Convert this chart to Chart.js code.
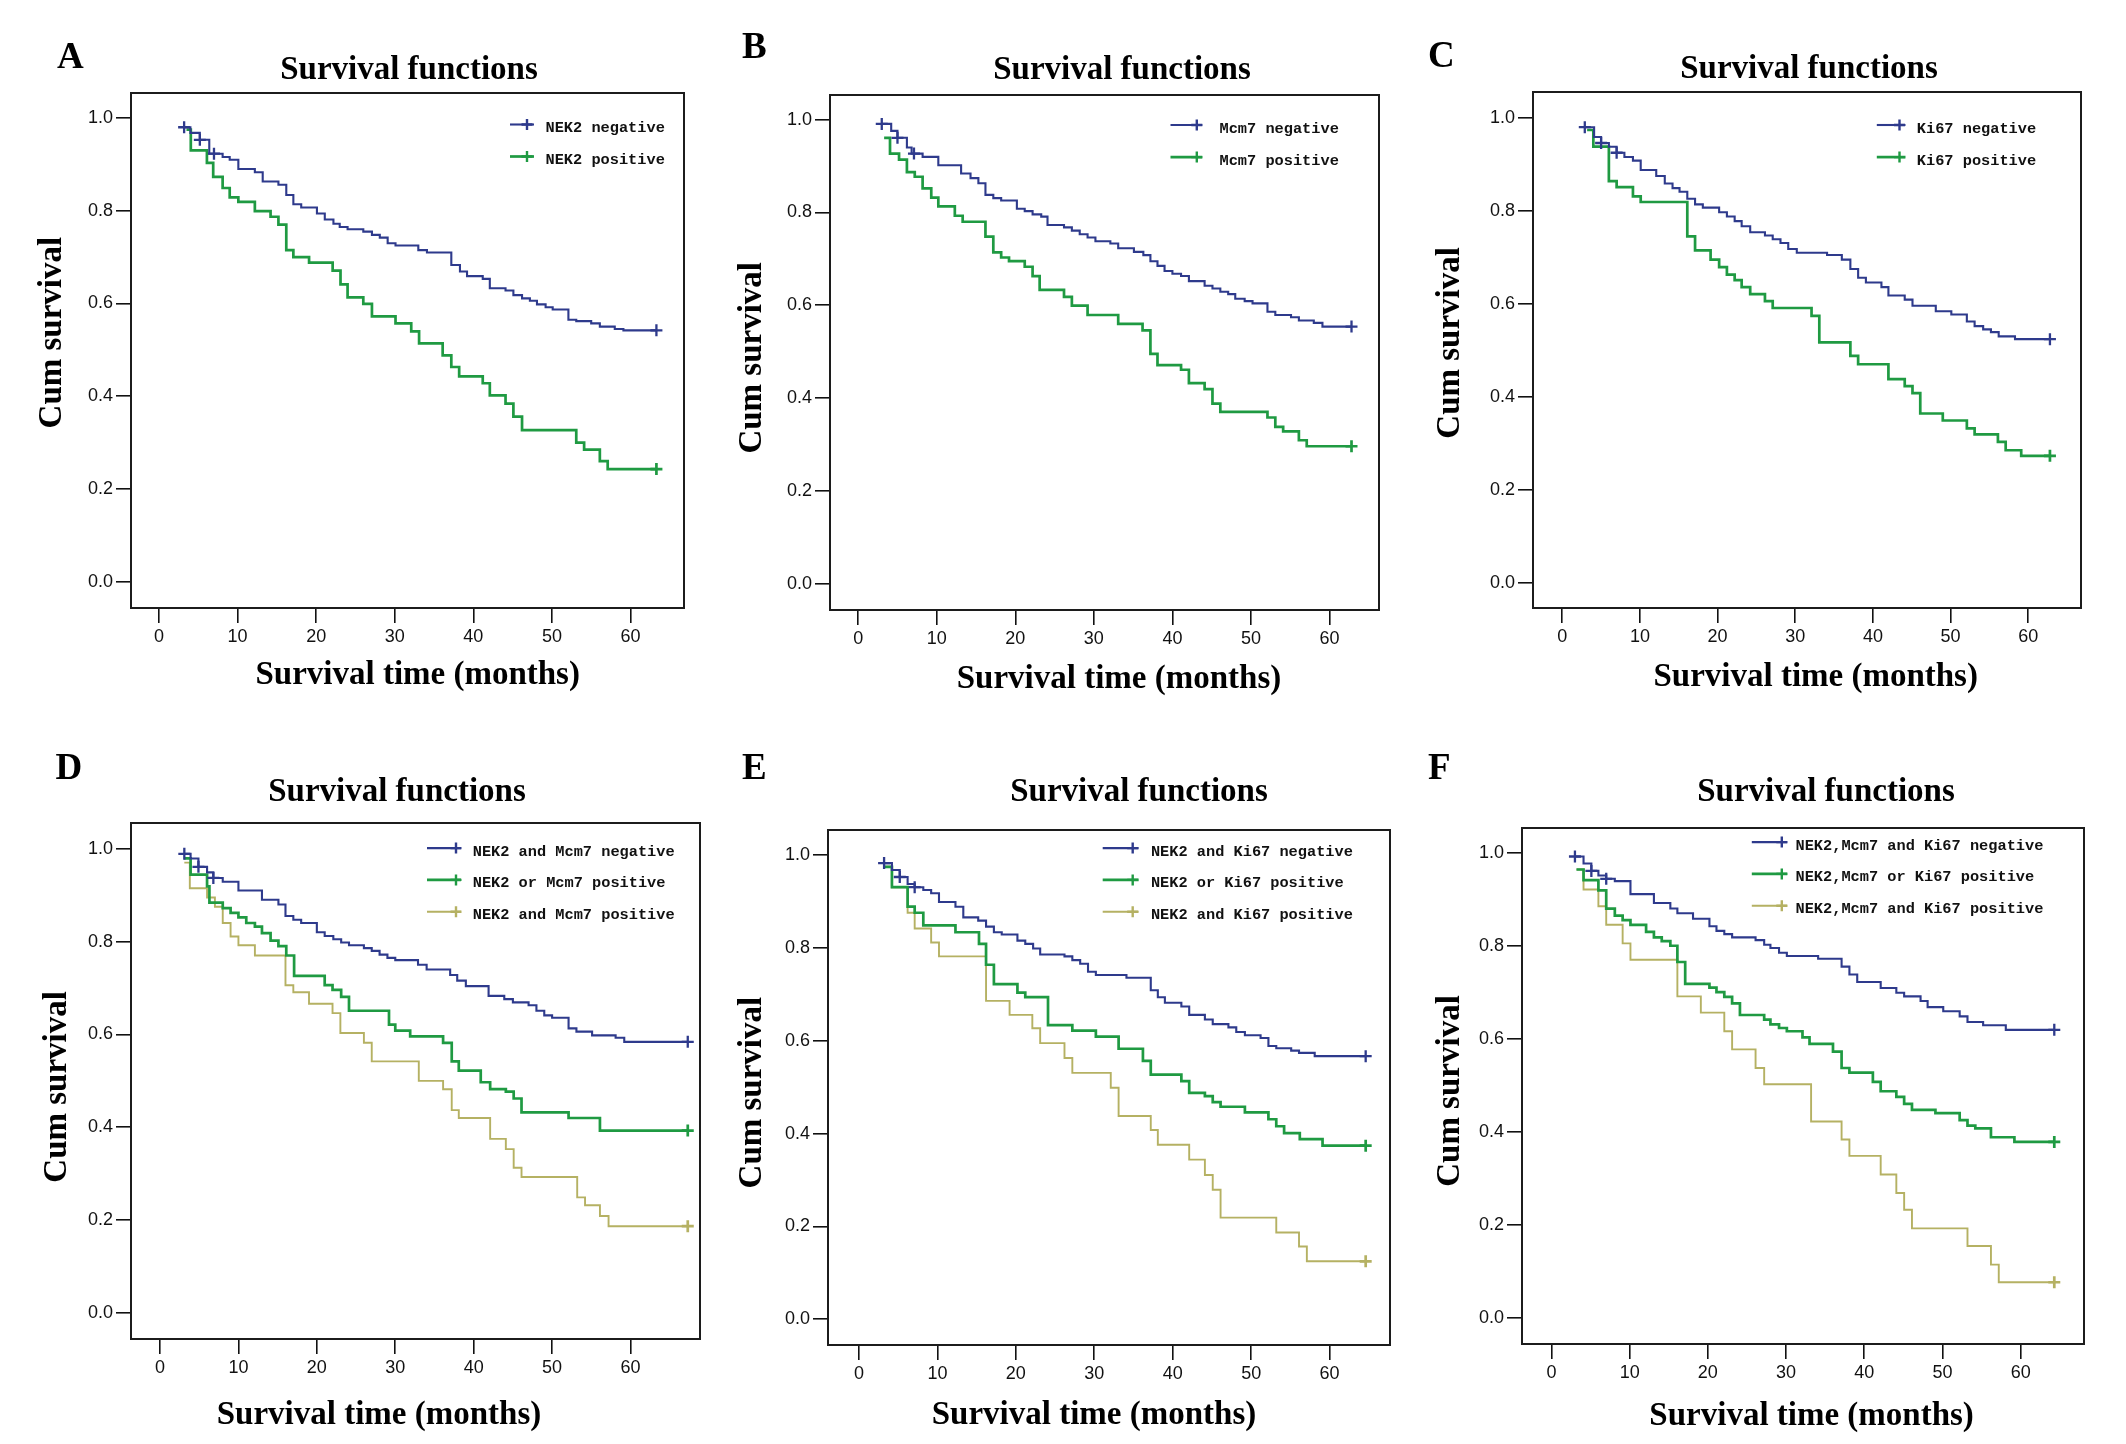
<!DOCTYPE html>
<html>
<head>
<meta charset="utf-8">
<script src="https://cdn.jsdelivr.net/npm/chart.js@4.4.1/dist/chart.umd.min.js"></script>
<style>
html, body { margin: 0; padding: 0; background: #ffffff; }
body { width: 2126px; height: 1444px; position: relative; overflow: hidden; }
canvas { position: absolute; }
</style>
</head>
<body>
<script>
// ---------------- DATA ----------------
const xTickValues = [0, 10, 20, 30, 40, 50, 60];
const xTickLabels = ['0', '10', '20', '30', '40', '50', '60'];
const yTickValues = [0, 0.2, 0.4, 0.6, 0.8, 1.0];
const yTickLabels = ['0.0', '0.2', '0.4', '0.6', '0.8', '1.0'];

const panelLetters = ['A', 'B', 'C', 'D', 'E', 'F'];
const panelTitle = 'Survival functions';
const xAxisTitle = 'Survival time (months)';
const yAxisTitle = 'Cum survival';

// Panel A
const aLabels = ['NEK2 negative', 'NEK2 positive'];
const aNegT = [3.2, 4.0, 5.2, 6.4, 8.1, 9.0, 10.1, 12.2, 13.2, 15.2, 16.2, 17.1, 18.1, 20.1, 21.1, 22.2, 23.0, 24.0, 26.0, 27.1, 28.1, 29.1, 30.1, 33.0, 34.1, 37.2, 38.3, 39.2, 41.2, 42.1, 44.1, 45.1, 46.2, 47.2, 48.1, 49.2, 50.1, 52.1, 53.1, 55.0, 56.1, 58.0, 59.1, 63.3];
const aNegS = [0.980, 0.968, 0.953, 0.923, 0.916, 0.910, 0.890, 0.883, 0.863, 0.856, 0.834, 0.814, 0.807, 0.794, 0.781, 0.772, 0.765, 0.760, 0.755, 0.748, 0.742, 0.730, 0.725, 0.715, 0.710, 0.683, 0.669, 0.659, 0.653, 0.633, 0.628, 0.618, 0.611, 0.606, 0.598, 0.592, 0.587, 0.565, 0.562, 0.557, 0.550, 0.545, 0.542, 0.542];
const aNegCens = [3.2, 5.2, 7.0, 63.3];
const aPosT = [3.5, 4.05, 6.1, 6.9, 8.1, 9.0, 10.1, 12.2, 14.2, 15.2, 16.2, 17.1, 19.1, 22.1, 23.1, 24.0, 26.0, 27.1, 30.1, 32.1, 33.1, 36.1, 37.2, 38.2, 41.2, 42.1, 44.1, 45.1, 46.2, 53.1, 54.1, 56.1, 57.1, 63.3];
const aPosS = [0.975, 0.930, 0.903, 0.873, 0.849, 0.829, 0.819, 0.799, 0.787, 0.770, 0.715, 0.700, 0.688, 0.671, 0.641, 0.613, 0.599, 0.572, 0.557, 0.540, 0.514, 0.488, 0.463, 0.443, 0.428, 0.402, 0.384, 0.356, 0.327, 0.300, 0.285, 0.260, 0.243, 0.243];
const aPosCens = [63.3];

// Panel B
const bLabels = ['Mcm7 negative', 'Mcm7 positive'];
const bNegT = [3.0, 4.2, 5.0, 6.2, 6.8, 8.2, 10.2, 13.1, 14.3, 15.3, 16.2, 17.2, 18.2, 20.2, 21.2, 22.2, 23.3, 24.1, 26.2, 27.2, 28.2, 29.2, 30.2, 32.1, 33.1, 35.1, 36.3, 37.2, 38.1, 39.0, 40.0, 41.1, 42.1, 44.1, 45.1, 46.1, 47.1, 48.0, 49.2, 50.2, 52.1, 53.1, 55.1, 56.1, 58.0, 59.1, 62.8];
const bNegS = [0.991, 0.976, 0.961, 0.940, 0.927, 0.920, 0.902, 0.884, 0.874, 0.863, 0.838, 0.831, 0.826, 0.808, 0.803, 0.796, 0.791, 0.773, 0.768, 0.761, 0.753, 0.746, 0.738, 0.733, 0.723, 0.715, 0.708, 0.695, 0.685, 0.674, 0.668, 0.663, 0.652, 0.642, 0.636, 0.629, 0.624, 0.614, 0.609, 0.604, 0.586, 0.579, 0.574, 0.567, 0.562, 0.554, 0.554];
const bNegCens = [3.0, 5.0, 7.1, 62.8];
const bPosT = [3.3, 4.05, 5.2, 6.2, 7.2, 8.2, 9.3, 10.2, 12.3, 13.3, 16.2, 17.2, 18.2, 19.2, 21.2, 22.2, 23.1, 26.2, 27.2, 29.2, 33.1, 36.2, 37.2, 38.1, 41.1, 42.1, 44.1, 45.1, 46.1, 52.1, 53.1, 54.1, 56.1, 57.1, 62.8];
const bPosS = [0.961, 0.927, 0.914, 0.887, 0.877, 0.852, 0.832, 0.813, 0.793, 0.780, 0.748, 0.714, 0.703, 0.695, 0.683, 0.663, 0.633, 0.618, 0.599, 0.579, 0.560, 0.546, 0.495, 0.471, 0.461, 0.432, 0.419, 0.388, 0.370, 0.358, 0.338, 0.328, 0.309, 0.296, 0.296];
const bPosCens = [62.8];

// Panel C
const cLabels = ['Ki67 negative', 'Ki67 positive'];
const cNegT = [2.9, 4.1, 5.0, 6.0, 7.0, 8.0, 9.1, 10.1, 12.1, 13.2, 14.2, 15.1, 16.1, 17.1, 18.1, 20.2, 21.2, 22.2, 23.1, 24.2, 26.1, 27.1, 28.1, 29.1, 30.2, 34.1, 36.0, 37.1, 38.1, 39.1, 41.1, 42.0, 44.1, 45.1, 48.1, 50.1, 52.1, 53.1, 54.2, 55.2, 56.2, 58.3, 62.8];
const cNegS = [0.980, 0.959, 0.946, 0.938, 0.925, 0.916, 0.908, 0.888, 0.875, 0.859, 0.849, 0.841, 0.826, 0.814, 0.807, 0.797, 0.788, 0.778, 0.767, 0.754, 0.747, 0.739, 0.731, 0.718, 0.710, 0.705, 0.695, 0.675, 0.656, 0.646, 0.636, 0.618, 0.609, 0.596, 0.584, 0.577, 0.562, 0.552, 0.545, 0.539, 0.530, 0.524, 0.524];
const cNegCens = [2.9, 5.0, 7.0, 62.8];
const cPosT = [3.2, 4.0, 6.0, 7.0, 9.1, 10.1, 16.1, 17.1, 19.1, 20.2, 21.2, 22.2, 23.1, 24.2, 26.1, 27.1, 32.1, 33.1, 37.1, 38.1, 42.0, 44.1, 45.1, 46.1, 49.0, 52.1, 53.1, 56.1, 57.1, 59.1, 62.8];
const cPosS = [0.974, 0.938, 0.864, 0.851, 0.831, 0.819, 0.745, 0.715, 0.695, 0.679, 0.663, 0.651, 0.636, 0.621, 0.606, 0.591, 0.574, 0.517, 0.488, 0.470, 0.438, 0.423, 0.408, 0.364, 0.349, 0.332, 0.319, 0.303, 0.285, 0.273, 0.273];
const cPosCens = [62.8];

// Panel D
const dLabels = ['NEK2 and Mcm7 negative', 'NEK2 or Mcm7 positive', 'NEK2 and Mcm7 positive'];
const dNegT = [3.1, 3.9, 4.9, 6.0, 6.8, 8.0, 10.0, 13.0, 15.1, 16.0, 17.0, 18.0, 20.0, 21.0, 22.1, 23.1, 24.1, 26.0, 27.0, 28.0, 29.0, 30.0, 32.9, 34.0, 37.0, 37.9, 39.0, 41.9, 43.9, 45.0, 47.0, 48.0, 49.0, 50.0, 52.1, 53.1, 55.1, 58.1, 59.2, 67.3];
const dNegS = [0.989, 0.979, 0.961, 0.949, 0.937, 0.929, 0.910, 0.890, 0.880, 0.855, 0.847, 0.840, 0.820, 0.812, 0.805, 0.798, 0.792, 0.786, 0.780, 0.772, 0.765, 0.760, 0.750, 0.740, 0.728, 0.716, 0.704, 0.683, 0.676, 0.669, 0.663, 0.651, 0.641, 0.636, 0.613, 0.606, 0.598, 0.593, 0.584, 0.584];
const dNegCens = [3.1, 4.9, 6.8, 67.3];
const dMixT = [3.1, 3.9, 6.0, 6.3, 8.0, 9.0, 10.0, 11.0, 12.1, 13.0, 14.1, 15.1, 16.1, 17.1, 21.0, 22.0, 23.1, 24.1, 29.2, 30.0, 31.9, 36.1, 37.2, 38.1, 40.9, 42.1, 44.1, 45.1, 46.1, 52.1, 56.1, 67.3];
const dMixS = [0.979, 0.944, 0.919, 0.884, 0.872, 0.862, 0.852, 0.840, 0.832, 0.818, 0.802, 0.790, 0.770, 0.726, 0.706, 0.696, 0.681, 0.651, 0.621, 0.608, 0.596, 0.582, 0.542, 0.522, 0.497, 0.482, 0.477, 0.462, 0.432, 0.420, 0.393, 0.393];
const dMixCens = [67.3];
const dBothT = [3.1, 3.8, 6.0, 7.0, 8.0, 9.0, 10.0, 12.1, 16.0, 17.0, 19.0, 22.0, 23.0, 26.0, 27.0, 33.0, 36.1, 37.2, 38.1, 42.1, 44.1, 45.1, 46.1, 53.2, 54.2, 56.1, 57.2, 67.3];
const dBothS = [0.970, 0.915, 0.895, 0.875, 0.840, 0.811, 0.792, 0.770, 0.706, 0.691, 0.666, 0.646, 0.603, 0.582, 0.542, 0.500, 0.482, 0.437, 0.420, 0.375, 0.353, 0.313, 0.293, 0.249, 0.232, 0.209, 0.187, 0.187];
const dBothCens = [67.3];

// Panel E
const eLabels = ['NEK2 and Ki67 negative', 'NEK2 or Ki67 positive', 'NEK2 and Ki67 positive'];
const eNegT = [3.2, 4.2, 5.2, 6.2, 7.1, 8.2, 9.2, 10.2, 12.3, 13.3, 15.2, 16.2, 17.2, 18.2, 20.2, 21.2, 22.2, 23.1, 26.2, 27.2, 28.2, 29.2, 30.2, 34.1, 37.2, 38.1, 39.0, 41.1, 42.1, 44.1, 45.1, 47.1, 48.1, 49.2, 51.2, 52.2, 53.2, 55.1, 56.1, 58.1, 64.6];
const eNegS = [0.983, 0.968, 0.953, 0.938, 0.931, 0.925, 0.918, 0.899, 0.889, 0.866, 0.859, 0.846, 0.834, 0.829, 0.816, 0.809, 0.799, 0.786, 0.782, 0.774, 0.766, 0.749, 0.742, 0.736, 0.709, 0.694, 0.682, 0.674, 0.656, 0.646, 0.636, 0.629, 0.619, 0.612, 0.606, 0.589, 0.584, 0.579, 0.574, 0.567, 0.567];
const eNegCens = [3.2, 5.2, 7.1, 64.6];
const eMixT = [3.2, 4.2, 6.2, 7.1, 8.2, 12.3, 15.3, 16.2, 17.2, 20.2, 21.2, 24.1, 27.2, 30.2, 33.1, 36.2, 37.2, 41.1, 42.1, 44.1, 45.1, 46.1, 49.2, 52.2, 53.2, 54.2, 56.2, 59.1, 64.6];
const eMixS = [0.975, 0.931, 0.889, 0.876, 0.849, 0.834, 0.809, 0.764, 0.722, 0.704, 0.694, 0.634, 0.622, 0.609, 0.583, 0.557, 0.527, 0.513, 0.488, 0.481, 0.468, 0.458, 0.446, 0.431, 0.416, 0.401, 0.388, 0.374, 0.374];
const eMixCens = [64.6];
const eBothT = [3.2, 4.2, 6.2, 7.1, 9.2, 10.2, 16.2, 19.2, 22.1, 23.1, 26.2, 27.2, 32.1, 33.1, 37.2, 38.1, 42.1, 44.1, 45.1, 46.1, 53.2, 56.1, 57.1, 64.6];
const eBothS = [0.975, 0.931, 0.876, 0.842, 0.812, 0.782, 0.686, 0.656, 0.627, 0.595, 0.563, 0.531, 0.499, 0.438, 0.408, 0.376, 0.344, 0.311, 0.279, 0.219, 0.187, 0.157, 0.125, 0.125];
const eBothCens = [64.6];

// Panel F
const fLabels = ['NEK2,Mcm7 and Ki67 negative', 'NEK2,Mcm7 or Ki67 positive', 'NEK2,Mcm7 and Ki67 positive'];
const fNegT = [3.0, 4.1, 5.1, 6.0, 7.0, 8.1, 10.1, 13.1, 15.2, 16.1, 18.1, 20.2, 21.1, 22.1, 23.1, 26.1, 27.2, 28.0, 29.1, 30.1, 34.1, 37.1, 38.1, 39.1, 42.1, 44.1, 45.1, 47.2, 48.1, 50.1, 52.2, 53.2, 55.2, 58.1, 64.3];
const fNegS = [0.992, 0.977, 0.961, 0.951, 0.944, 0.939, 0.911, 0.892, 0.880, 0.870, 0.858, 0.842, 0.832, 0.825, 0.818, 0.812, 0.802, 0.795, 0.785, 0.778, 0.772, 0.755, 0.738, 0.722, 0.709, 0.699, 0.691, 0.681, 0.668, 0.659, 0.648, 0.636, 0.629, 0.619, 0.619];
const fNegCens = [3.0, 5.1, 7.0, 64.3];
const fMixT = [3.2, 4.1, 6.0, 7.0, 8.1, 9.1, 10.1, 12.1, 13.1, 14.1, 15.2, 16.1, 17.1, 20.2, 21.1, 22.1, 23.1, 24.1, 27.2, 28.0, 29.1, 30.1, 32.1, 33.0, 36.0, 37.1, 38.1, 41.1, 42.1, 44.1, 45.1, 46.1, 49.1, 52.2, 53.2, 54.2, 56.2, 59.2, 64.3];
const fMixS = [0.964, 0.941, 0.919, 0.880, 0.865, 0.855, 0.845, 0.830, 0.818, 0.810, 0.800, 0.765, 0.718, 0.710, 0.700, 0.690, 0.676, 0.651, 0.641, 0.631, 0.623, 0.616, 0.603, 0.589, 0.572, 0.537, 0.527, 0.507, 0.487, 0.475, 0.460, 0.447, 0.440, 0.425, 0.413, 0.407, 0.388, 0.378, 0.378];
const fMixCens = [64.3];
const fBothT = [3.2, 4.1, 6.0, 7.0, 9.1, 10.1, 16.1, 19.1, 22.1, 23.1, 26.1, 27.2, 33.2, 37.1, 38.1, 42.1, 44.1, 45.1, 46.1, 53.2, 56.2, 57.2, 64.3];
const fBothS = [0.964, 0.921, 0.885, 0.845, 0.805, 0.770, 0.691, 0.656, 0.616, 0.577, 0.537, 0.502, 0.422, 0.383, 0.348, 0.308, 0.268, 0.232, 0.192, 0.154, 0.114, 0.076, 0.076];
const fBothCens = [64.3];

// ---------------- STYLE / LAYOUT ----------------
const STYLE = {
  neg:  { color: '#2e3a8c', width: 2.1 },
  pos:  { color: '#1f9a42', width: 2.7 },
  both: { color: '#b5b163', width: 1.9 }
};
const INK = '#111111';
const SERIF = '"Liberation Serif", "Times New Roman", serif';
const SANS = '"Liberation Sans", Arial, sans-serif';
const MONO = '"Liberation Mono", "DejaVu Sans Mono", monospace';

const PAD = { left: 130, top: 93, right: 15, bottom: 100 };

const panels = [
  { letter: panelLetters[0], box: [131, 93, 684, 608], xr: [-3.56, 66.81], yr: [-0.0567, 1.0539],
    title: [409, 79], letterPos: [57, 68], xTitle: [417.7, 683.5], yTitle: [61.4, 332.6],
    legend: { x1: 510, x2: 534, cx: 527, tx: 545.5, rows: [127, 159] },
    series: [
      { label: aLabels[0], T: aNegT, S: aNegS, cens: aNegCens, kind: 'neg' },
      { label: aLabels[1], T: aPosT, S: aPosS, cens: aPosCens, kind: 'pos' } ] },
  { letter: panelLetters[1], box: [830, 95, 1379, 610], xr: [-3.59, 66.3], yr: [-0.057, 1.0533],
    title: [1122, 79], letterPos: [742, 58], xTitle: [1119, 688], yTitle: [761.4, 357.8],
    legend: { x1: 1170.5, x2: 1202.3, cx: 1196.8, tx: 1219.5, rows: [127.5, 159.6] },
    series: [
      { label: bLabels[0], T: bNegT, S: bNegS, cens: bNegCens, kind: 'neg' },
      { label: bLabels[1], T: bPosT, S: bPosS, cens: bPosCens, kind: 'pos' } ] },
  { letter: panelLetters[2], box: [1533, 92, 2081, 608], xr: [-3.77, 66.8], yr: [-0.0544, 1.0557],
    title: [1809, 78], letterPos: [1428, 66.5], xTitle: [1815.7, 685.8], yTitle: [1459, 342.9],
    legend: { x1: 1876.8, x2: 1905.5, cx: 1899.5, tx: 1916.8, rows: [127.5, 159.6] },
    series: [
      { label: cLabels[0], T: cNegT, S: cNegS, cens: cNegCens, kind: 'neg' },
      { label: cLabels[1], T: cPosT, S: cPosS, cens: cPosCens, kind: 'pos' } ] },
  { letter: panelLetters[3], box: [131, 823, 700, 1339], xr: [-3.7, 68.86], yr: [-0.056, 1.0554],
    title: [397, 801], letterPos: [55.5, 778.6], xTitle: [379, 1423.7], yTitle: [65.9, 1086.9],
    legend: { x1: 427, x2: 461, cx: 456, tx: 472.7, rows: [850.6, 882.4, 914.3] },
    series: [
      { label: dLabels[0], T: dNegT, S: dNegS, cens: dNegCens, kind: 'neg' },
      { label: dLabels[1], T: dMixT, S: dMixS, cens: dMixCens, kind: 'pos' },
      { label: dLabels[2], T: dBothT, S: dBothS, cens: dBothCens, kind: 'both' } ] },
  { letter: panelLetters[4], box: [828, 830, 1390, 1345], xr: [-3.95, 67.7], yr: [-0.0554, 1.0543],
    title: [1139, 801], letterPos: [742, 778.6], xTitle: [1094, 1423.7], yTitle: [761.4, 1092.6],
    legend: { x1: 1102.7, x2: 1138.6, cx: 1132.7, tx: 1150.9, rows: [850.6, 882.4, 914.3] },
    series: [
      { label: eLabels[0], T: eNegT, S: eNegS, cens: eNegCens, kind: 'neg' },
      { label: eLabels[1], T: eMixT, S: eMixS, cens: eMixCens, kind: 'pos' },
      { label: eLabels[2], T: eBothT, S: eBothS, cens: eBothCens, kind: 'both' } ] },
  { letter: panelLetters[5], box: [1522, 828, 2084, 1344], xr: [-3.77, 68.1], yr: [-0.0568, 1.0533],
    title: [1826, 801], letterPos: [1428, 778.6], xTitle: [1811.6, 1425], yTitle: [1459, 1091],
    legend: { x1: 1751.8, x2: 1787.3, cx: 1781.8, tx: 1795.5, rows: [844.6, 876.4, 908.3] },
    series: [
      { label: fLabels[0], T: fNegT, S: fNegS, cens: fNegCens, kind: 'neg' },
      { label: fLabels[1], T: fMixT, S: fMixS, cens: fMixCens, kind: 'pos' },
      { label: fLabels[2], T: fBothT, S: fBothS, cens: fBothCens, kind: 'both' } ] }
];

// ---------------- HELPERS ----------------
function stepValue(T, S, t) {
  let v = S[0];
  for (let i = 0; i < T.length; i++) { if (T[i] <= t + 1e-6) v = S[i]; }
  return v;
}
function stepPoints(T, S) {
  const n = Math.min(T.length, S.length);
  const pts = [];
  for (let i = 0; i < n; i++) pts.push({ x: T[i], y: S[i] });
  return pts;
}

const framePlugin = {
  id: 'kmFrame',
  afterDraw(chart) {
    const { ctx, chartArea: a } = chart;
    ctx.save();
    ctx.strokeStyle = '#1c1c1c';
    ctx.lineWidth = 2;
    ctx.strokeRect(a.left, a.top, a.right - a.left, a.bottom - a.top);
    ctx.restore();
  }
};

function makeDecorPlugin(p, ox, oy) {
  return {
    id: 'kmDecor',
    afterDraw(chart) {
      const ctx = chart.ctx;
      ctx.save();
      ctx.fillStyle = '#000';
      ctx.font = 'bold 37px ' + SERIF;
      ctx.textAlign = 'left';
      ctx.textBaseline = 'alphabetic';
      ctx.fillText(p.letter, p.letterPos[0] - ox, p.letterPos[1] - oy);
      ctx.font = 'bold 33px ' + SERIF;
      ctx.textAlign = 'center';
      ctx.fillText(panelTitle, p.title[0] - ox, p.title[1] - oy);
      ctx.fillText(xAxisTitle, p.xTitle[0] - ox, p.xTitle[1] - oy);
      ctx.save();
      ctx.translate(p.yTitle[0] - ox, p.yTitle[1] - oy);
      ctx.rotate(-Math.PI / 2);
      ctx.fillText(yAxisTitle, 0, 0);
      ctx.restore();
      const lg = p.legend;
      p.series.forEach((s, i) => {
        const st = STYLE[s.kind];
        const ry = lg.rows[i] - oy;
        const ly = ry - 2.5;
        ctx.strokeStyle = st.color;
        ctx.lineWidth = st.width;
        ctx.beginPath();
        ctx.moveTo(lg.x1 - ox, ly);
        ctx.lineTo(lg.x2 - ox, ly);
        ctx.stroke();
        ctx.lineWidth = 2.4;
        ctx.beginPath();
        ctx.moveTo(lg.cx - ox - 5.5, ly);
        ctx.lineTo(lg.cx - ox + 5.5, ly);
        ctx.moveTo(lg.cx - ox, ly - 5.5);
        ctx.lineTo(lg.cx - ox, ly + 5.5);
        ctx.stroke();
        ctx.fillStyle = '#111';
        ctx.font = 'bold 15.3px ' + MONO;
        ctx.textAlign = 'left';
        ctx.textBaseline = 'alphabetic';
        ctx.fillText(s.label, lg.tx - ox, ry + 5);
      });
      ctx.restore();
    }
  };
}

// ---------------- BUILD CHARTS ----------------
panels.forEach((p) => {
  const [L, T, R, B] = p.box;
  const cl = L - PAD.left, ct = T - PAD.top;
  const cw = (R - L) + PAD.left + PAD.right;
  const ch = (B - T) + PAD.top + PAD.bottom;
  const cv = document.createElement('canvas');
  cv.width = cw; cv.height = ch;
  cv.style.left = cl + 'px'; cv.style.top = ct + 'px';
  cv.style.width = cw + 'px'; cv.style.height = ch + 'px';
  document.body.appendChild(cv);

  const datasets = [];
  p.series.forEach((s, i) => {
    const st = STYLE[s.kind];
    datasets.push({
      label: s.label,
      data: stepPoints(s.T, s.S),
      showLine: true,
      stepped: 'before',
      borderColor: st.color,
      backgroundColor: st.color,
      borderWidth: st.width,
      pointRadius: 0,
      pointHoverRadius: 0,
      fill: false,
      order: 1 + i
    });
  });
  p.series.forEach((s) => {
    const st = STYLE[s.kind];
    datasets.push({
      label: s.label + ' (censored)',
      data: s.cens.map(t => ({ x: t, y: stepValue(s.T, s.S, t) })),
      showLine: false,
      pointStyle: 'cross',
      pointRadius: 6,
      pointHoverRadius: 6,
      pointBorderWidth: s.kind === 'neg' ? 2.3 : 2.7,
      pointBorderColor: st.color,
      borderColor: st.color,
      backgroundColor: st.color,
      order: 0
    });
  });

  const tickFont = { family: SANS, size: 18 };
  new Chart(cv, {
    type: 'scatter',
    data: { datasets },
    options: {
      responsive: false,
      animation: false,
      events: [],
      layout: { padding: { left: 0, top: PAD.top, right: PAD.right, bottom: 0 } },
      plugins: {
        legend: { display: false },
        tooltip: { enabled: false },
        title: { display: false }
      },
      scales: {
        x: {
          type: 'linear',
          min: p.xr[0], max: p.xr[1],
          afterBuildTicks: (ax) => { ax.ticks = xTickValues.map(v => ({ value: v })); },
          afterFit: (ax) => { ax.height = PAD.bottom; },
          grid: { display: true, drawOnChartArea: false, drawTicks: true, tickLength: 15, color: INK, lineWidth: 1.6 },
          border: { display: false },
          ticks: { color: INK, padding: 3, font: tickFont, maxRotation: 0, minRotation: 0, autoSkip: false,
                   callback: (v, i) => xTickLabels[i] }
        },
        y: {
          type: 'linear',
          min: p.yr[0], max: p.yr[1],
          afterBuildTicks: (ax) => { ax.ticks = yTickValues.map(v => ({ value: v })); },
          afterFit: (ax) => { ax.width = PAD.left; },
          grid: { display: true, drawOnChartArea: false, drawTicks: true, tickLength: 15, color: INK, lineWidth: 1.6 },
          border: { display: false },
          ticks: { color: INK, padding: 3, font: tickFont, autoSkip: false,
                   callback: (v, i) => yTickLabels[i] }
        }
      }
    },
    plugins: [framePlugin, makeDecorPlugin(p, cl, ct)]
  });
});
</script>
</body>
</html>
